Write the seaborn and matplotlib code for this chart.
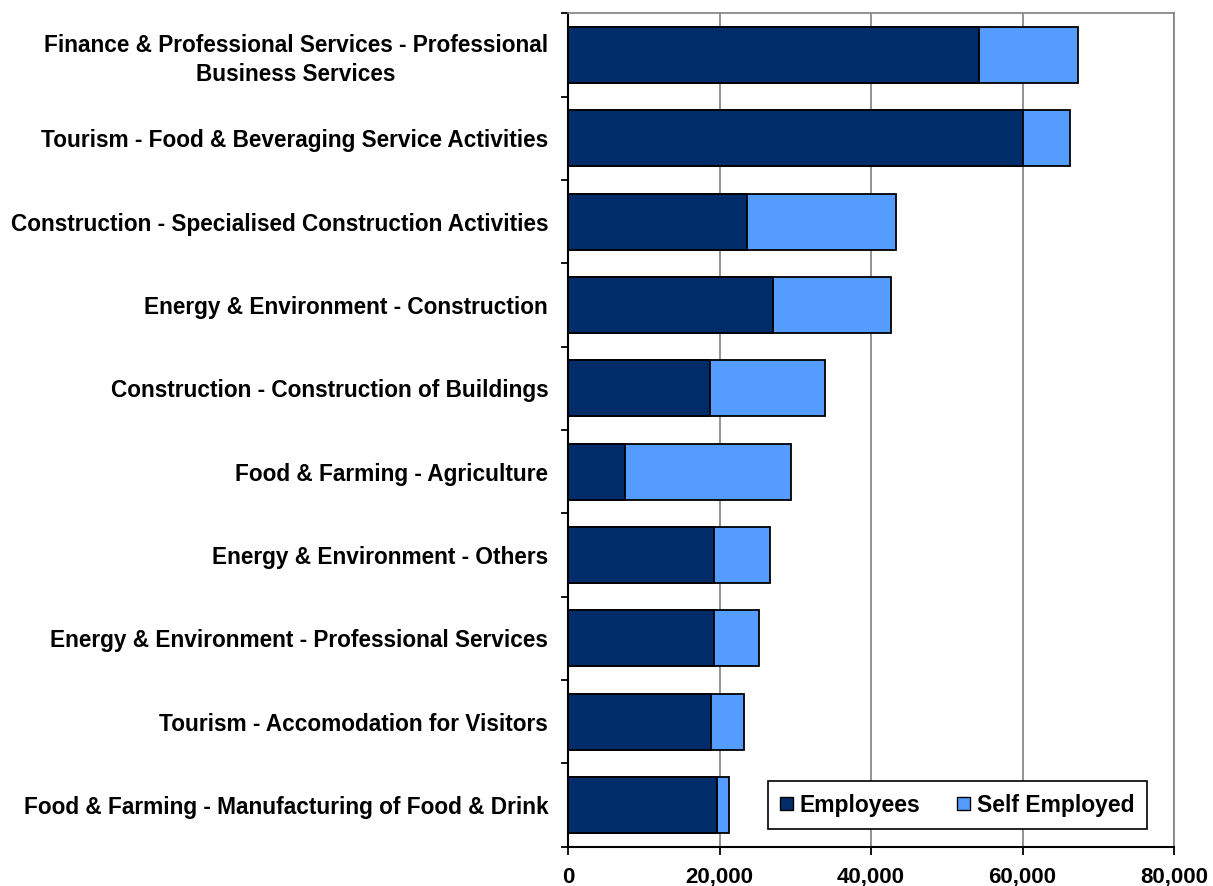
import seaborn as sns
import matplotlib.pyplot as plt
import pandas as pd
from matplotlib.patches import Patch
from matplotlib.ticker import FuncFormatter, FixedLocator

# values
sectors = [
    "Finance & Professional Services - Professional\nBusiness Services",
    "Tourism - Food & Beveraging Service Activities",
    "Construction - Specialised Construction Activities",
    "Energy & Environment - Construction",
    "Construction - Construction of Buildings",
    "Food & Farming - Agriculture",
    "Energy & Environment - Others",
    "Energy & Environment - Professional Services",
    "Tourism - Accomodation for Visitors",
    "Food & Farming - Manufacturing of Food & Drink",
]
employees = [54300, 60000, 23600, 27100, 18700, 7500, 19200, 19200, 18900, 19600]
self_employed = [13000, 6300, 19700, 15500, 15200, 21900, 7400, 6000, 4300, 1600]

dark = "#002D69"
light = "#559CFF"

df = pd.DataFrame({"sector": sectors, "employees": employees,
                   "self_employed": self_employed})
df["total"] = df["employees"] + df["self_employed"]

sns.set_style("white", {"text.color": "black", "xtick.color": "black",
                        "ytick.color": "black", "axes.labelcolor": "black"})
plt.rcParams['font.family'] = ['Liberation Sans', 'DejaVu Sans']

fig = plt.figure(figsize=(12.13, 8.86), dpi=100)
ax = fig.add_axes([0.4685, 0.0444, 0.4993, 0.9406])

# stacked look: total bar underneath, employees on top
sns.barplot(data=df, y="sector", x="total", color=light, orient="h",
            width=0.67, edgecolor="black", linewidth=1.3, saturation=1, ax=ax)
sns.barplot(data=df, y="sector", x="employees", color=dark, orient="h",
            width=0.67, edgecolor="black", linewidth=1.3, saturation=1, ax=ax)

ax.set_xlim(0, 80000)
ax.set_ylim(len(sectors) - 0.5, -0.5)
ax.set_xlabel("")
ax.set_ylabel("")

ax.xaxis.set_major_locator(FixedLocator([0, 20000, 40000, 60000, 80000]))
ax.xaxis.set_major_formatter(FuncFormatter(lambda v, p: f"{int(v):,}"))
ax.grid(axis="x", color="#808080", linewidth=1.2)
ax.grid(axis="y", visible=False)
ax.set_axisbelow(True)

# category labels, ticks at category boundaries
ax.set_yticks(range(len(sectors)))
ax.set_yticklabels(sectors, fontsize=16.3, fontweight="bold",
                   multialignment="center", linespacing=1.3, color="black")
ax.tick_params(axis="y", which="major", length=0, pad=14.5)
ax.set_yticks([i - 0.5 for i in range(len(sectors) + 1)], minor=True)
ax.tick_params(axis="y", which="minor", length=5, width=1.3, color="black", left=True)
ax.tick_params(axis="x", length=6, width=1.3, color="black", bottom=True,
               labelsize=16, pad=8.5, labelcolor="black")
for t in ax.get_xticklabels():
    t.set_fontweight("bold")

for side in ["left", "bottom"]:
    ax.spines[side].set_color("black")
    ax.spines[side].set_linewidth(1.5)
for side in ["top", "right"]:
    ax.spines[side].set_color("#808080")
    ax.spines[side].set_linewidth(1.2)

handles = [Patch(facecolor=dark, edgecolor="black", label="Employees"),
           Patch(facecolor=light, edgecolor="black", label="Self Employed")]
leg = ax.legend(handles=handles, loc="lower left", bbox_to_anchor=(0.329, 0.021, 0.626, 0.058),
                mode="expand", ncol=2, fancybox=False, framealpha=1, edgecolor="black",
                prop={"weight": "bold", "size": 16.5}, handlelength=0.55, handleheight=0.55,
                handletextpad=0.3, columnspacing=1.0, borderpad=0.55, borderaxespad=0)
leg.get_frame().set_linewidth(1.2)
for t in leg.get_texts():
    t.set_color("black")

fig.savefig("out.png", dpi=100)
